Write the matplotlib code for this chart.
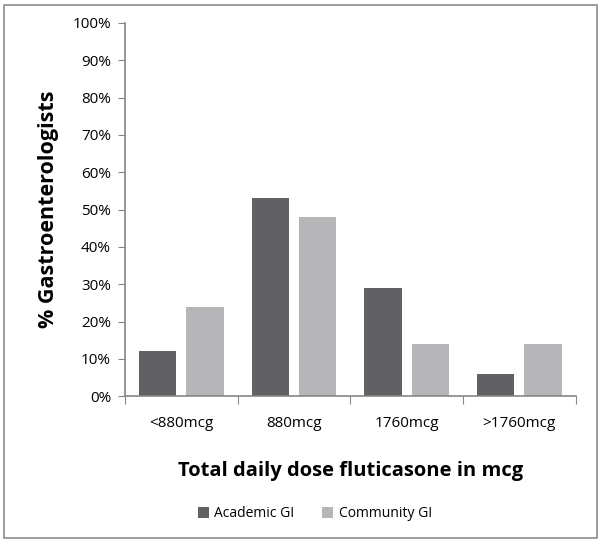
'''
Total daily dose fluticasone: Academic vs Community GI
'''

import numpy as np
import matplotlib
matplotlib.use( 'Agg' )
import matplotlib.pyplot as plt
from matplotlib.patches import Rectangle
from matplotlib.ticker import PercentFormatter

categories = [ '<880mcg', '880mcg', '1760mcg', '>1760mcg' ]
academic   = [ 12, 53, 29, 6 ]
community  = [ 24, 48, 14, 14 ]
series     = [ 'Academic GI', 'Community GI' ]

dark  = '#616064'
light = '#b6b5b8'
axis_gray = '#868686'

plt.rcParams[ 'font.family' ] = [ 'Open Sans', 'DejaVu Sans' ]

fig = plt.figure( figsize = ( 6.01, 5.45 ), dpi = 100 )
ax  = fig.add_axes( [ 0.208, 0.273, 0.75, 0.685 ] )

x = np.arange( len( categories ) )
w = 0.33
ax.bar( x - 0.21, academic,  w, color = dark,  label = series[ 0 ] )
ax.bar( x + 0.21, community, w, color = light, label = series[ 1 ] )

ax.set_xlim( -0.5, len( categories ) - 0.5 )
ax.set_ylim( 0, 100 )
ax.set_yticks( np.arange( 0, 101, 10 ) )
ax.yaxis.set_major_formatter( PercentFormatter( decimals = 0 ) )

# ticks sit on category boundaries, labels in the middle
ax.set_xticks( np.arange( -0.5, len( categories ), 1.0 ) )
ax.set_xticklabels( [] )
ax.set_xticks( x, minor = True )
ax.set_xticklabels( categories, minor = True )
ax.tick_params( axis = 'x', which = 'minor', length = 0, pad = 14, labelsize = 11, colors = 'black' )
ax.tick_params( axis = 'x', which = 'major', length = 6, direction = 'out', color = axis_gray )
ax.tick_params( axis = 'y', length = 5, direction = 'out', color = axis_gray, labelsize = 11, pad = 5 )

for s in [ 'top', 'right' ]:
    ax.spines[ s ].set_visible( False )
for s in [ 'left', 'bottom' ]:
    ax.spines[ s ].set_color( axis_gray )
    ax.spines[ s ].set_linewidth( 1.2 )

ax.set_ylabel( '% Gastroenterologists', fontsize = 15.5, fontweight = 'bold', labelpad = 10 )
ax.set_xlabel( 'Total daily dose fluticasone in mcg', fontsize = 14.5, fontweight = 'bold', labelpad = 22 )

ax.legend( loc = 'upper left', bbox_to_anchor = ( 185 / 601, 0.094 ), bbox_transform = fig.transFigure,
           ncol = 2, frameon = False, fontsize = 10, handlelength = 0.8, handleheight = 0.8,
           columnspacing = 2.0, handletextpad = 0.4 )

fig.patches.append( Rectangle( ( 4 / 601, 7 / 545 ), 593 / 601, 533 / 545, transform = fig.transFigure,
                               fill = False, edgecolor = '#8c8c8c', linewidth = 1.2 ) )

fig.savefig( 'out.png', dpi = 100 )
